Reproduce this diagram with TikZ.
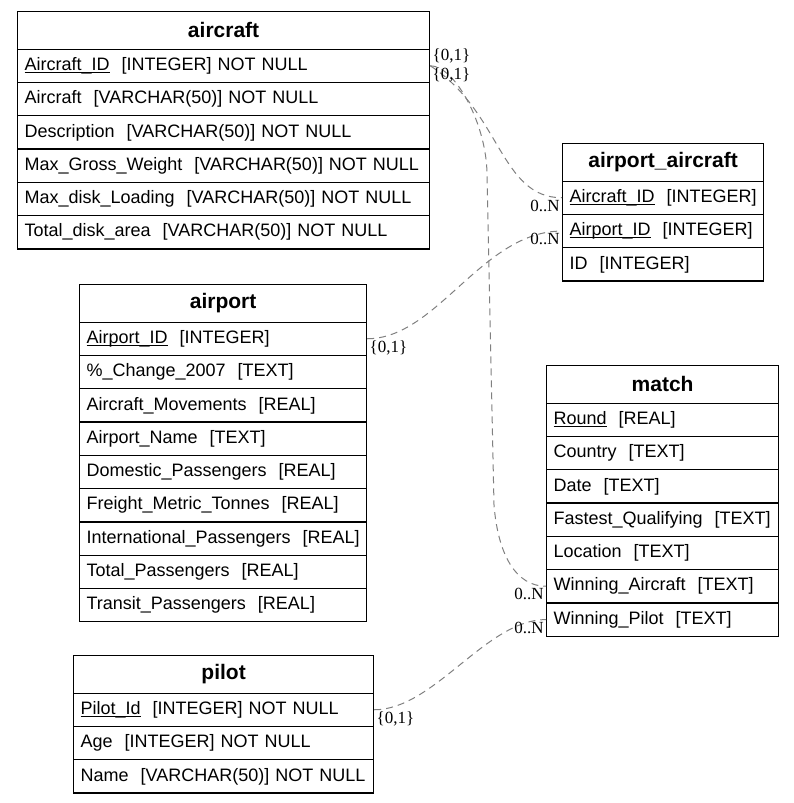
\documentclass[tikz,border=0pt]{standalone}
\usepackage{fontspec}
\setmainfont{Liberation Sans}
\newfontfamily\cardfont{Liberation Serif}
\newcommand\pkey[1]{\setbox0\hbox{#1}\rlap{\rule[-1pt]{\wd0}{0.45pt}}\box0}

\begin{document}
\begin{tikzpicture}[x=0.5pt, y=-0.5pt,
  tabhead/.style={draw, line width=0.6pt, anchor=north west, minimum height=18.75pt, text width=#1, inner xsep=3.5pt, inner ysep=0pt, align=center, font=\fontsize{10.5}{12}\selectfont\bfseries},
  tabrow/.style={draw, line width=0.6pt, anchor=north west, minimum height=16.65pt, text width=#1, inner xsep=3.5pt, inner ysep=0pt, align=left, font=\fontsize{9}{11}\selectfont},
  fk/.style={draw=gray, line width=0.5pt, dash pattern=on 3.5pt off 2.5pt},
  card/.style={inner sep=1pt, font=\cardfont\fontsize{8.5}{10}\selectfont}]
\useasboundingbox (0,0) rectangle (793,803);

% aircraft
\node[tabhead=199pt] (aircraft) at (17,11) {aircraft};
\foreach \txt [count=\i] in {{\pkey{Aircraft\_ID}\ \ [INTEGER] NOT NULL}, {Aircraft\ \ [VARCHAR(50)] NOT NULL}, {Description\ \ [VARCHAR(50)] NOT NULL}, {Max\_Gross\_Weight\ \ [VARCHAR(50)] NOT NULL}, {Max\_disk\_Loading\ \ [VARCHAR(50)] NOT NULL}, {Total\_disk\_area\ \ [VARCHAR(50)] NOT NULL}} {
  \node[tabrow=199pt] (aircraft-\i) at (17, {48.5+33.3*(\i-1)}) {\mbox{\txt}};
}

% airport_aircraft
\node[tabhead=93.5pt] (airport-aircraft) at (562,143) {airport\_aircraft};
\foreach \txt [count=\i] in {{\pkey{Aircraft\_ID}\ \ [INTEGER]}, {\pkey{Airport\_ID}\ \ [INTEGER]}, {ID\ \ [INTEGER]}} {
  \node[tabrow=93.5pt] (airport-aircraft-\i) at (562, {180.5+33.3*(\i-1)}) {\mbox{\txt}};
}

% airport
\node[tabhead=136.5pt] (airport) at (79,284) {airport};
\foreach \txt [count=\i] in {{\pkey{Airport\_ID}\ \ [INTEGER]}, {\%\_Change\_2007\ \ [TEXT]}, {Aircraft\_Movements\ \ [REAL]}, {Airport\_Name\ \ [TEXT]}, {Domestic\_Passengers\ \ [REAL]}, {Freight\_Metric\_Tonnes\ \ [REAL]}, {International\_Passengers\ \ [REAL]}, {Total\_Passengers\ \ [REAL]}, {Transit\_Passengers\ \ [REAL]}} {
  \node[tabrow=136.5pt] (airport-\i) at (79, {321.5+33.3*(\i-1)}) {\mbox{\txt}};
}

% match
\node[tabhead=109pt] (match) at (546,365) {match};
\foreach \txt [count=\i] in {{\pkey{Round}\ \ [REAL]}, {Country\ \ [TEXT]}, {Date\ \ [TEXT]}, {Fastest\_Qualifying\ \ [TEXT]}, {Location\ \ [TEXT]}, {Winning\_Aircraft\ \ [TEXT]}, {Winning\_Pilot\ \ [TEXT]}} {
  \node[tabrow=109pt] (match-\i) at (546, {402.5+33.3*(\i-1)}) {\mbox{\txt}};
}

% pilot
\node[tabhead=143pt] (pilot) at (73,655) {pilot};
\foreach \txt [count=\i] in {{\pkey{Pilot\_Id}\ \ [INTEGER] NOT NULL}, {Age\ \ [INTEGER] NOT NULL}, {Name\ \ [VARCHAR(50)] NOT NULL}} {
  \node[tabrow=143pt] (pilot-\i) at (73, {692.5+33.3*(\i-1)}) {\mbox{\txt}};
}

% links
\coordinate (bend-top) at (487,175);
\coordinate (bend-bot) at (494,505);
\draw[fk] (aircraft-1.east) .. controls +(71,46) and +(-62,0) .. (airport-aircraft-1.west);
\draw[fk] (aircraft-1.east) .. controls +(25,0) and +(0,-50) .. (bend-top) -- (bend-bot) .. controls +(4,50) and +(-30,0) .. (match-6.west);
\draw[fk] (airport-1.east) .. controls +(70,0) and +(-80,0) .. (airport-aircraft-2.west);
\draw[fk] (pilot-1.east) .. controls +(60,0) and +(-60,0) .. (match-7.west);

% cardinalities
\node[card, anchor=south west] (c-aircraft-a) at (aircraft-1.east) {\{0,1\}};
\node[card, anchor=north west] (c-aircraft-b) at (aircraft-1.east) {\{0,1\}};
\node[card, anchor=north west] (c-airport) at (airport-1.east) {\{0,1\}};
\node[card, anchor=north west] (c-pilot) at (pilot-1.east) {\{0,1\}};
\node[card, anchor=north east] (c-aa-1) at (airport-aircraft-1.west) {0..N};
\node[card, anchor=north east] (c-aa-2) at (airport-aircraft-2.west) {0..N};
\node[card, anchor=north east] (c-match-6) at (match-6.west) {0..N};
\node[card, anchor=north east] (c-match-7) at (match-7.west) {0..N};
\end{tikzpicture}
\end{document}
